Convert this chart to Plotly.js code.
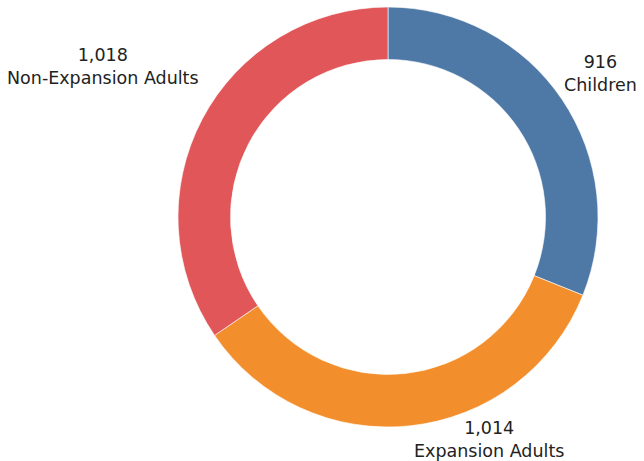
<!DOCTYPE html>
<html>
<head>
<meta charset="utf-8">
<script src="https://cdn.plot.ly/plotly-3.0.1.min.js"></script>
<style>html,body{margin:0;padding:0;background:#fff;}#chart{width:644px;height:461px;}</style>
</head>
<body>
<div id="chart"></div>
<script>
const categories = ["Children", "Expansion Adults", "Non-Expansion Adults"];
const values = [916, 1014, 1018];
const colors = ["#4e79a7", "#f28e2b", "#e15759"];

// label placement style (distance from centre in outer radii, horizontal anchor)
const labelDist = [1.224, 1.066, 1.535];
const labelAnchor = ["center", "left", "center"];

const total = values.reduce((a, b) => a + b, 0);
const annotations = [];
let cum = 0;
values.forEach((v, i) => {
  const mid = (cum + v / 2) / total * 2 * Math.PI; // clockwise from 12 o'clock
  cum += v;
  const f = labelDist[i];
  annotations.push({
    xref: "paper", yref: "paper",
    x: 0.5 + 0.5 * f * Math.sin(mid),
    y: 0.5 + 0.5 * f * Math.cos(mid),
    xanchor: labelAnchor[i], yanchor: "middle",
    text: v.toLocaleString("en-US") + "<br>" + categories[i],
    showarrow: false,
    align: "center",
    font: { family: "DejaVu Sans, Verdana, sans-serif", size: 17.5, color: "#222222" }
  });
});

const trace = {
  type: "pie",
  labels: categories,
  values: values,
  hole: 0.75,
  sort: false,
  direction: "clockwise",
  rotation: 0,
  marker: { colors: colors, line: { color: "#ffffff", width: 0.6 } },
  textinfo: "none",
  hoverinfo: "label+value",
  showlegend: false
};

const layout = {
  width: 644,
  height: 461,
  margin: { l: 178, r: 46, t: 7, b: 34 },
  paper_bgcolor: "#ffffff",
  showlegend: false,
  annotations: annotations
};

Plotly.newPlot("chart", [trace], layout, { displayModeBar: false, staticPlot: true });
</script>
</body>
</html>
